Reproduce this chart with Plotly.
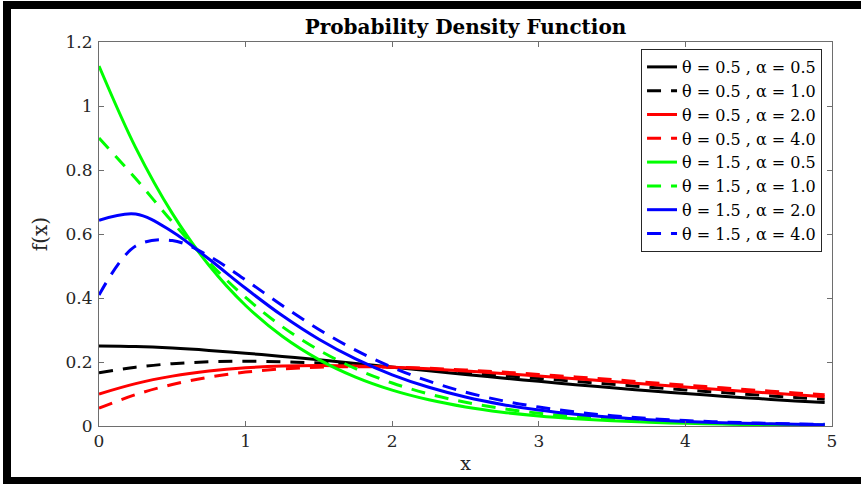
import plotly.graph_objects as go

# x positions (read along the x axis)
x_vals = [0, 0.25, 0.5, 0.75, 1.0, 1.25, 1.5, 1.75, 2.0, 2.25, 2.5, 2.75, 3.0,
          3.25, 3.5, 3.75, 4.0, 4.25, 4.5, 4.75, 4.95]

# f(x) values
t05_a05 = [0.2500, 0.2482, 0.2434, 0.2363, 0.2274, 0.2174, 0.2067, 0.1954, 0.1839, 0.1725,
           0.1612, 0.1501, 0.1395, 0.1292, 0.1195, 0.1102, 0.1015, 0.0933, 0.0856, 0.0785, 0.0731]
t05_a10 = [0.1667, 0.1839, 0.1947, 0.2005, 0.2022, 0.2007, 0.1968, 0.1911, 0.1839, 0.1759,
           0.1671, 0.1580, 0.1488, 0.1395, 0.1303, 0.1214, 0.1128, 0.1045, 0.0966, 0.0891, 0.0835]
t05_a20 = [0.1000, 0.1324, 0.1558, 0.1718, 0.1820, 0.1873, 0.1889, 0.1876, 0.1839, 0.1786,
           0.1719, 0.1643, 0.1562, 0.1477, 0.1390, 0.1303, 0.1218, 0.1135, 0.1054, 0.0977, 0.0917]
t05_a40 = [0.0556, 0.0981, 0.1298, 0.1527, 0.1685, 0.1784, 0.1837, 0.1853, 0.1839, 0.1804,
           0.1751, 0.1686, 0.1611, 0.1532, 0.1448, 0.1363, 0.1278, 0.1194, 0.1113, 0.1033, 0.0973]
t15_a05 = [1.1250, 0.8699, 0.6643, 0.5022, 0.3765, 0.2803, 0.2075, 0.1528, 0.1120, 0.0818,
           0.0595, 0.0432, 0.0312, 0.0226, 0.0162, 0.0117, 0.0084, 0.0060, 0.0043, 0.0030, 0.0023]
t15_a10 = [0.9000, 0.7732, 0.6377, 0.5113, 0.4016, 0.3105, 0.2372, 0.1793, 0.1344, 0.1001,
           0.0741, 0.0545, 0.0400, 0.0292, 0.0213, 0.0154, 0.0112, 0.0080, 0.0058, 0.0041, 0.0032]
t15_a20 = [0.6429, 0.6627, 0.6073, 0.5218, 0.4303, 0.3450, 0.2710, 0.2096, 0.1600, 0.1210,
           0.0907, 0.0675, 0.0500, 0.0368, 0.0270, 0.0197, 0.0143, 0.0104, 0.0075, 0.0054, 0.0042]
t15_a40 = [0.4091, 0.5623, 0.5797, 0.5312, 0.4564, 0.3764, 0.3018, 0.2371, 0.1833, 0.1400,
           0.1058, 0.0793, 0.0591, 0.0438, 0.0322, 0.0236, 0.0172, 0.0125, 0.0091, 0.0065, 0.0051]

series_names = ["θ = 0.5 , α = 0.5", "θ = 0.5 , α = 1.0", "θ = 0.5 , α = 2.0", "θ = 0.5 , α = 4.0",
                "θ = 1.5 , α = 0.5", "θ = 1.5 , α = 1.0", "θ = 1.5 , α = 2.0", "θ = 1.5 , α = 4.0"]
series_vals = [t05_a05, t05_a10, t05_a20, t05_a40, t15_a05, t15_a10, t15_a20, t15_a40]
series_colors = ["#000000", "#000000", "#ff0000", "#ff0000", "#00ff00", "#00ff00", "#0000ff", "#0000ff"]
series_dash = ["solid", "14px,10px", "solid", "14px,10px", "solid", "14px,10px", "solid", "14px,10px"]

x_ticks = [0, 1, 2, 3, 4, 5]
x_ticklabels = ["0", "1", "2", "3", "4", "5"]
y_ticks = [0, 0.2, 0.4, 0.6, 0.8, 1.0, 1.2]
y_ticklabels = ["0", "0.2", "0.4", "0.6", "0.8", "1", "1.2"]

FONT = "DejaVu Serif"
AX = "#6e6e6e"

fig = go.Figure()
for name, vals, col, dsh in zip(series_names, series_vals, series_colors, series_dash):
    fig.add_trace(go.Scatter(
        x=x_vals, y=vals, mode="lines", name=name,
        line=dict(color=col, width=3, dash=dsh, shape="spline", smoothing=1.0),
    ))

axis_common = dict(
    showline=True, linecolor=AX, linewidth=1, mirror="ticks",
    ticks="inside", ticklen=5, tickcolor=AX, tickwidth=1,
    showgrid=False, zeroline=False,
    tickfont=dict(family=FONT, size=17, color="#262626"),
)

fig.update_layout(
    width=861, height=484,
    margin=dict(l=99, r=29, t=42, b=58),
    paper_bgcolor="white", plot_bgcolor="white",
    font=dict(family=FONT, color="#262626"),
    title=dict(text="<b>Probability Density Function</b>", x=0.5, xref="paper", xanchor="center",
               y=1 - 27 / 484, yanchor="middle", yref="container",
               font=dict(family=FONT, size=20, color="#000000")),
    xaxis=dict(range=[0, 5], tickvals=x_ticks, ticktext=x_ticklabels,
               title=dict(text="x", font=dict(family=FONT, size=19, color="#262626"), standoff=6),
               **axis_common),
    yaxis=dict(range=[0, 1.2], tickvals=y_ticks, ticktext=y_ticklabels, ticklabelstandoff=2,
               title=dict(text="f(x)", font=dict(family=FONT, size=20, color="#262626"), standoff=12),
               **axis_common),
    legend=dict(x=0.9864, y=0.9818, xanchor="right", yanchor="top",
                bgcolor="white", bordercolor="#262626", borderwidth=1,
                font=dict(family=FONT, size=16, color="#000000"),
                tracegroupgap=0, itemwidth=30),
    showlegend=True,
)

# Outer black frame (left, top, bottom)
def px2x(px):
    return (px - 99) / 733.0

def px2y(py):
    return (426 - py) / 384.0

frame_rects = [
    (3, 1, 11, 484),    # left band
    (3, 1, 861, 9),     # top band
    (3, 477, 861, 484), # bottom band
]
for x0, y0, x1, y1 in frame_rects:
    fig.add_shape(type="rect", xref="paper", yref="paper",
                  x0=px2x(x0), x1=px2x(x1), y0=px2y(y0), y1=px2y(y1),
                  fillcolor="black", line=dict(width=0), layer="above")

fig.write_html("out.html")
